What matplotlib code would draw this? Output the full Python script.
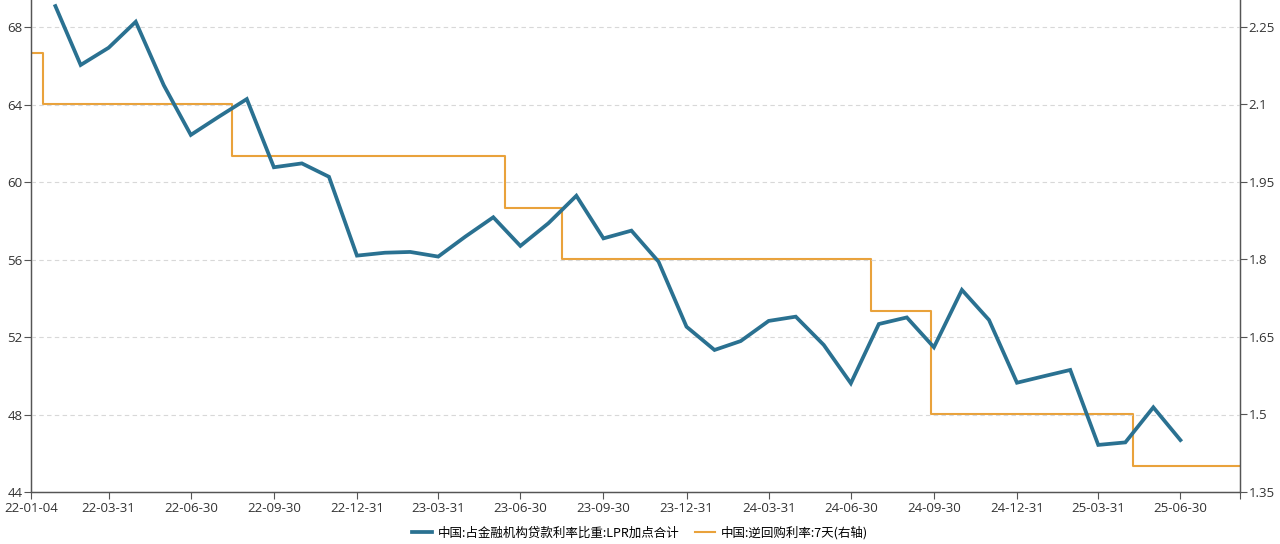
import numpy as np
import pandas as pd
import matplotlib
matplotlib.use('Agg')
import matplotlib.pyplot as plt
import matplotlib.dates as mdates

plt.rcParams['font.family'] = ['Noto Sans CJK SC', 'DejaVu Sans']

# LPR加点合计占比 (monthly, month end)
lpr_months = pd.date_range('2022-01-31', '2025-06-30', freq='ME')
lpr_values = [69.08, 66.04, 66.93, 68.27, 65.0, 62.43, 63.37, 64.28, 60.76, 60.96,
              60.27, 56.2, 56.35, 56.39, 56.15, 57.18, 58.18, 56.7, 57.87, 59.29,
              57.09, 57.49, 55.89, 52.53, 51.33, 51.79, 52.83, 53.05, 51.59, 49.61,
              52.67, 53.01, 51.47, 54.43, 52.88, 49.64, 49.99, 50.3, 46.43, 46.56,
              48.37, 46.68]

# 7天逆回购利率 change dates
repo_dates = pd.to_datetime(['2022-01-04', '2022-01-17', '2022-08-15', '2023-06-13',
                             '2023-08-15', '2024-07-22', '2024-09-27', '2025-05-08',
                             '2025-09-04'])
repo_rates = [2.2, 2.1, 2.0, 1.9, 1.8, 1.7, 1.5, 1.4, 1.4]

tick_dates = pd.to_datetime(['2022-01-04', '2022-03-31', '2022-06-30', '2022-09-30',
                             '2022-12-31', '2023-03-31', '2023-06-30', '2023-09-30',
                             '2023-12-31', '2024-03-31', '2024-06-30', '2024-09-30',
                             '2024-12-31', '2025-03-31', '2025-06-30'])
left_ticks = [44, 48, 52, 56, 60, 64, 68]
right_ticks = [1.35, 1.5, 1.65, 1.8, 1.95, 2.1, 2.25]
right_labels = ['1.35', '1.5', '1.65', '1.8', '1.95', '2.1', '2.25']

blue = '#2a7191'
orange = '#e9a23b'
axis_col = '#555555'

fig = plt.figure(figsize=(12.8, 5.44), dpi=100)
ax = fig.add_axes([31/1280, 52/544, 1209/1280, 492/544])
ax2 = ax.twinx()

l1, = ax.plot(lpr_months, lpr_values, color=blue, lw=2.7, solid_joinstyle='miter', zorder=3)
l2, = ax2.plot(repo_dates, repo_rates, color=orange, lw=1.5, drawstyle='steps-post', zorder=2)
ax.set_zorder(ax2.get_zorder() + 1)
ax.patch.set_visible(False)

ax.set_xlim(pd.Timestamp('2022-01-04'), pd.Timestamp('2025-09-04'))
ax.set_ylim(44, 44 + 492/19.375)
ax2.set_ylim(1.35, 1.35 + 492/516.67)

ax.set_yticks(left_ticks)
ax.set_yticklabels([str(v) for v in left_ticks])
ax2.set_yticks(right_ticks)
ax2.set_yticklabels(right_labels)
ax.set_xticks(tick_dates)
ax.set_xticklabels([d.strftime('%y-%m-%d') for d in tick_dates])
ax.set_xticks([mdates.date2num(pd.Timestamp('2025-09-04'))], minor=True)

ax.grid(axis='y', color='#d8d8d8', ls=(0, (4, 3)), lw=0.8)
ax.set_axisbelow(True)

for a in (ax, ax2):
    a.spines['top'].set_visible(False)
    for s in ('left', 'right', 'bottom'):
        a.spines[s].set_color(axis_col)
        a.spines[s].set_linewidth(0.9)
    a.tick_params(colors='#333333', labelsize=9.5, length=5, width=0.8)
    a.tick_params(axis='both', color=axis_col)
ax.tick_params(axis='x', which='minor', length=5, color=axis_col, width=0.8)
ax.tick_params(axis='y', pad=1)
ax2.tick_params(axis='y', pad=1)
ax.tick_params(axis='x', pad=2)
for lab in ax.get_xticklabels() + ax.get_yticklabels() + ax2.get_yticklabels():
    lab.set_family(['Open Sans', 'DejaVu Sans'])

fig.legend([l1, l2], ['中国:占金融机构贷款利率比重:LPR加点合计', '中国:逆回购利率:7天(右轴)'],
           loc='lower center', bbox_to_anchor=(0.5, -0.012), ncol=2, frameon=False,
           fontsize=9, handlelength=1.6, columnspacing=1.2, handletextpad=0.5)

fig.savefig('out.png', dpi=100)
